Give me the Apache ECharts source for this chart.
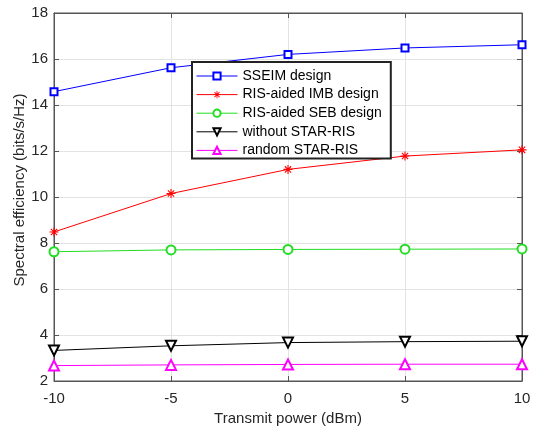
<!DOCTYPE html>
<html>
  <head>
    <meta charset="UTF-8">
    <title>Spectral efficiency</title>
    <script src="https://cdn.jsdelivr.net/npm/echarts@6/dist/echarts.min.js"></script>
    <style>
    * {
      margin: 0;
      padding: 0;
    }
    </style>
  </head>
  <body>
    <div id="main" style="width: 534px;height: 429px"></div>
    <script>
var power = [-10, -5, 0, 5, 10]
var sseim = [14.58, 15.62, 16.2, 16.48, 16.62]
var imb = [8.48, 10.15, 11.2, 11.78, 12.05]
var seb = [7.62, 7.7, 7.72, 7.73, 7.74]
var noStar = [3.33, 3.53, 3.67, 3.71, 3.73]
var randomStar = [2.67, 2.7, 2.72, 2.73, 2.73]
var yTicks = [2, 18, 2]   // min, max, step

// asterisk marker, four bars
var star = 'path://M4.4 0L5.6 0L5.6 10L4.4 10Z M0 4.4L10 4.4L10 5.6L0 5.6Z' +
  'M1.92 1.08L8.92 8.08L8.08 8.92L1.08 1.92Z M8.92 1.92L1.92 8.92L1.08 8.08L8.08 1.08Z'

function pairs(ys) {
  return ys.map((y, i) => [power[i], y])
}

function line(name, ys, color, symbol, size, rotate) {
  return {
    name: name,
    type: 'line',
    data: pairs(ys),
    symbol: symbol,
    symbolSize: size,
    symbolRotate: rotate || 0,
    showAllSymbol: true,
    lineStyle: { color: color, width: 1 },
    itemStyle: { color: color, borderColor: color, borderWidth: symbol === star ? 0 : 1 },
    emphasis: { disabled: true },
    animation: false,
    z: 3
  }
}

var dark = '#262626'
var axisGray = '#555'
var font = 'Liberation Sans, Arial, sans-serif'

var myChart = echarts.init(document.getElementById('main'))
myChart.setOption({
  backgroundColor: '#fff',
  textStyle: { fontFamily: font },
  grid: {
    left: 54, right: 12, top: 13, bottom: 48,
    outerBoundsMode: 'none',
    show: true, borderColor: axisGray, borderWidth: 1
  },
  legend: {
    orient: 'vertical',
    left: 192,
    top: 62,
    padding: [6, 9, 0, 4],
    itemWidth: 41,
    itemHeight: 9,
    itemGap: 2.6,
    borderColor: '#222',
    borderWidth: 2,
    backgroundColor: '#fff',
    lineStyle: { width: 1 },
    textStyle: { fontSize: 14, lineHeight: 16, color: '#000', fontFamily: font },
    data: ['SSEIM design', 'RIS-aided IMB design', 'RIS-aided SEB design', 'without STAR-RIS', 'random STAR-RIS']
  },
  xAxis: [{
    type: 'value',
    min: -10, max: 10, interval: 5,
    name: 'Transmit power (dBm)',
    nameLocation: 'middle',
    nameGap: 28,
    nameTextStyle: { fontSize: 15, color: dark },
    axisLine: { onZero: false, lineStyle: { color: axisGray } },
    axisTick: { inside: true, length: 5, lineStyle: { color: axisGray } },
    axisLabel: { fontSize: 15, color: dark, margin: 10 },
    splitLine: { lineStyle: { color: '#e3e3e3' } }
  }, {
    type: 'value', position: 'top',
    min: -10, max: 10, interval: 5,
    axisLine: { show: true, onZero: false, lineStyle: { color: axisGray } },
    axisTick: { inside: true, length: 5, lineStyle: { color: axisGray } },
    axisLabel: { show: false },
    splitLine: { show: false }
  }],
  yAxis: [{
    type: 'value',
    min: yTicks[0], max: yTicks[1], interval: yTicks[2],
    name: 'Spectral efficiency (bits/s/Hz)',
    nameLocation: 'middle',
    nameGap: 27,
    nameMoveOverlap: false,
    nameTextStyle: { fontSize: 15, color: dark, padding: [0, 0, 0, 14] },
    axisLine: { show: true, onZero: false, lineStyle: { color: axisGray } },
    axisTick: { show: true, inside: true, length: 5, lineStyle: { color: axisGray } },
    axisLabel: { fontSize: 15, color: dark, margin: 6 },
    splitLine: { lineStyle: { color: '#e3e3e3' } }
  }, {
    type: 'value', position: 'right',
    min: yTicks[0], max: yTicks[1], interval: yTicks[2],
    axisLine: { show: true, onZero: false, lineStyle: { color: axisGray } },
    axisTick: { show: true, inside: true, length: 5, lineStyle: { color: axisGray } },
    axisLabel: { show: false },
    splitLine: { show: false }
  }],
  series: [
    line('SSEIM design', sseim, '#0000ff', 'emptyRect', 7),
    line('RIS-aided IMB design', imb, '#ff0000', star, 9),
    line('RIS-aided SEB design', seb, '#22dd22', 'emptyCircle', 9),
    line('without STAR-RIS', noStar, '#000000', 'emptyTriangle', 10, 180),
    line('random STAR-RIS', randomStar, '#ff00ff', 'emptyTriangle', 10)
  ]
})
    </script>
  </body>
</html>
